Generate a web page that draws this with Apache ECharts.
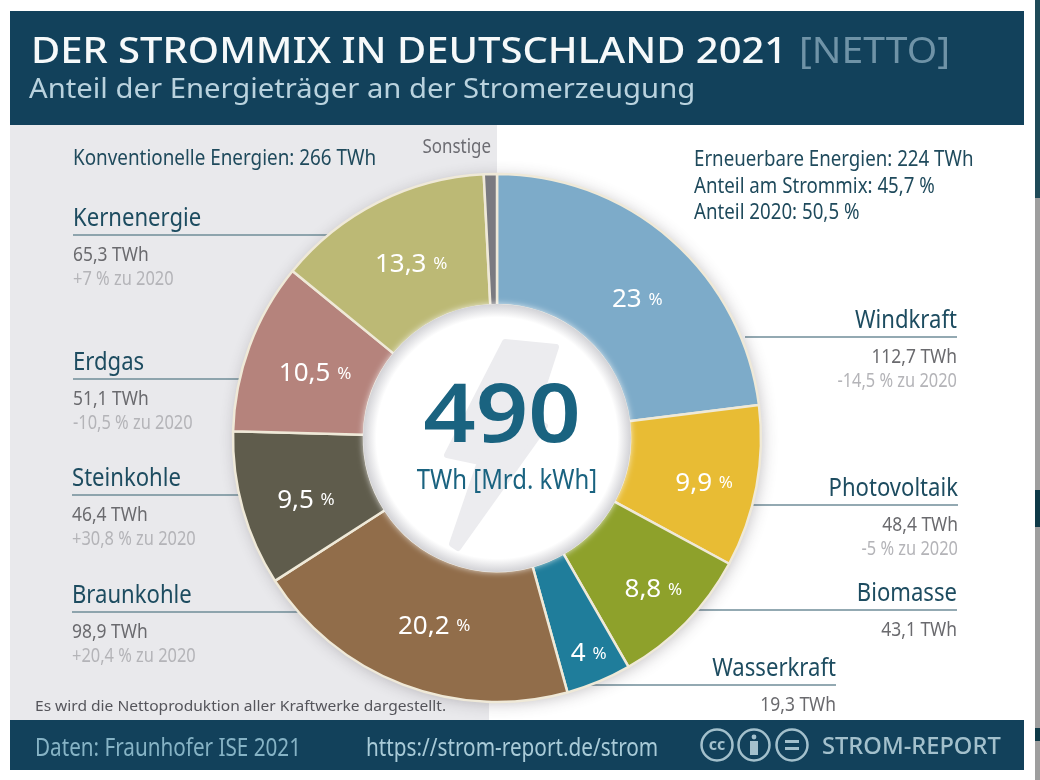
<!DOCTYPE html>
<html>
<head>
<meta charset="utf-8">
<title>Strommix 2021</title>
<style>html,body{margin:0;padding:0;background:#fff}#main{width:1040px;height:780px}</style>
<script src="https://cdn.jsdelivr.net/npm/echarts@6/dist/echarts.min.js"></script>
</head>
<body>
<div id="main"></div>
<script>
// Daten
var names = ['Windkraft', 'Photovoltaik', 'Biomasse', 'Wasserkraft', 'Braunkohle', 'Steinkohle', 'Erdgas', 'Kernenergie', 'Sonstige'];
var shares = [23, 9.9, 8.8, 4, 20.2, 9.5, 10.5, 13.3, 0.8];
var twh = ['112,7', '48,4', '43,1', '19,3', '98,9', '46,4', '51,1', '65,3', ''];
var change = ['-14,5 %', '-5 %', '', '', '+20,4 %', '+30,8 %', '-10,5 %', '+7 %', ''];
var colors = ['#7dabc9', '#e8bc34', '#8ea12b', '#1f7d9b', '#916d4a', '#5f5c4c', '#b5837c', '#bcb975', '#7a7a80'];

// Lage der Beschriftungen: x, Linie y, Linie Ende x, Ausrichtung
var callouts = {
    Kernenergie: { x: 73, y: 235, end: 328, align: 'left' },
    Erdgas: { x: 73, y: 379, end: 250, align: 'left' },
    Steinkohle: { x: 72, y: 495, end: 240, align: 'left' },
    Braunkohle: { x: 72, y: 612, end: 300, align: 'left' },
    Windkraft: { x: 957, y: 337, end: 745, align: 'right' },
    Photovoltaik: { x: 958, y: 505, end: 745, align: 'right' },
    Biomasse: { x: 957, y: 610, end: 695, align: 'right' },
    Wasserkraft: { x: 836, y: 685, end: 590, align: 'right' }
};
// Verschiebung der Prozentwerte im Ring
var labelShift = [[7, 13], [9, 8], [12, 11], [14, 30], [9, 0], [3, 8], [7, 6], [5, 6], [0, 0]];

var cx = 497, cy = 438;
var font = '"Noto Sans", "Open Sans", sans-serif';

// kein schmaler Font installiert, daher scaleX
function txt(x, y, text, size, color, align, sx, weight, z) {
    return {
        type: 'text', z: z || 20, silent: true, x: x, y: y, scaleX: sx || 1,
        style: {
            text: text, fill: color, fontSize: size, fontFamily: font,
            fontWeight: weight || 'normal', align: align || 'left', verticalAlign: 'middle'
        }
    };
}
function rect(x, y, w, h, fill, z) {
    return { type: 'rect', z: z, silent: true, shape: { x: x, y: y, width: w, height: h }, style: { fill: fill } };
}

var els = [
    rect(10, 125, 487, 300, '#e9e9ec', -10),
    rect(10, 425, 479, 295, '#e9e9ec', -10),
    rect(10, 11, 1014, 114, '#12415b', 10),
    rect(10, 720, 1014, 50, '#12415b', 10),
    // rechter Rand
    rect(1035, 0, 5, 198, '#1f4a58', 10),
    rect(1035, 198, 5, 582, '#9e9e9e', 10),
    rect(1035, 490, 5, 37, '#0f3a48', 11),
    rect(1035, 728, 5, 13, '#0f3a48', 11),
    // Schatten unter dem Ring
    { type: 'circle', z: -5, silent: true, shape: { cx: cx, cy: cy, r: 263 },
      style: { fill: '#fff', shadowBlur: 16, shadowColor: 'rgba(60,50,60,.32)', shadowOffsetX: 2, shadowOffsetY: 2 } },
    // Innenkreis
    { type: 'circle', z: 12, silent: true, shape: { cx: cx, cy: cy, r: 134 },
      style: {
          fill: new echarts.graphic.RadialGradient(0.5, 0.5, 0.5, [
              { offset: 0, color: '#fff' }, { offset: 0.9, color: '#fff' }, { offset: 1, color: '#d2d2d6' }
          ]),
          shadowBlur: 6, shadowColor: 'rgba(255,255,255,.8)'
      } },
    // Blitz
    { type: 'polygon', z: 13, silent: true,
      shape: { points: [[505, 342], [556, 347], [532, 421], [545, 426], [458, 548], [452, 544], [480, 462], [447, 455]] },
      style: { fill: '#ececef', stroke: '#ececef', lineWidth: 6, lineJoin: 'round' } },

    txt(31, 53, 'DER STROMMIX IN DEUTSCHLAND 2021', 36, '#f6f9fa', 'left', 1.11, 500),
    txt(799, 53, '[NETTO]', 36, '#6f93a7', 'left', 1.085),
    txt(29, 90, 'Anteil der Energieträger an der Stromerzeugung', 27, '#b9d2de', 'left', 1.083),

    txt(73, 159, 'Konventionelle Energien: 266 TWh', 22, '#1f4a5c', 'left', 0.857),
    txt(694, 160, 'Erneuerbare Energien: 224 TWh', 22, '#1f4a5c', 'left', 0.85),
    txt(694, 187, 'Anteil am Strommix: 45,7 %', 22, '#1f4a5c', 'left', 0.85),
    txt(694, 213, 'Anteil 2020: 50,5 %', 22, '#1f4a5c', 'left', 0.85),
    txt(491, 148, 'Sonstige', 19, '#6c6c72', 'right', 0.89),

    txt(502, 419, '490', 82, '#1a6380', 'center', 1.12, 600),
    txt(507, 481, 'TWh [Mrd. kWh]', 27, '#1a6380', 'center', 0.885),

    txt(35, 707, 'Es wird die Nettoproduktion aller Kraftwerke dargestellt.', 14, '#55555b', 'left', 1.11),
    txt(35, 749, 'Daten: Fraunhofer ISE 2021', 25, '#86b3c5', 'left', 0.827),
    txt(366, 749, 'https://strom-report.de/strom', 25, '#a9cbd8', 'left', 0.83),
    txt(822, 747, 'STROM-REPORT', 23, '#a3c0cc', 'left', 1.03, 500)
];

// CC-Symbole
[717, 754, 792].forEach(function (x) {
    els.push({ type: 'circle', z: 20, silent: true, shape: { cx: x, cy: 745, r: 15.5 },
        style: { fill: 'none', stroke: '#a3c0cc', lineWidth: 2.5 } });
});
els.push(txt(717, 745, 'cc', 16, '#a3c0cc', 'center', 1, 700));
els.push({ type: 'circle', z: 20, silent: true, shape: { cx: 754, cy: 737, r: 2.4 }, style: { fill: '#a3c0cc' } });
els.push(rect(750, 741, 8, 14, '#a3c0cc', 20));
els.push(rect(785, 740, 14, 3, '#a3c0cc', 20));
els.push(rect(785, 747, 14, 3, '#a3c0cc', 20));

// Beschriftungen der Segmente
names.forEach(function (n, i) {
    var c = callouts[n];
    if (!c) return;
    els.push({ type: 'line', z: -6, silent: true,
        shape: { x1: c.x, y1: c.y, x2: c.end, y2: c.y },
        style: { stroke: '#6f8d99', lineWidth: 1.5 } });
    els.push(txt(c.x, c.y - 16, n, 26, '#1d4c60', c.align, 0.85));
    els.push(txt(c.x, c.y + 20, twh[i] + ' TWh', 20, '#6a6a6e', c.align, 0.87));
    if (change[i]) els.push(txt(c.x, c.y + 44, change[i] + ' zu 2020', 20, '#b4b4b8', c.align, 0.82));
});

var myChart = echarts.init(document.getElementById('main'));
var option = {
    animation: false,
    backgroundColor: '#fff',
    color: colors,
    graphic: { elements: els },
    series: [{
        type: 'pie',
        z: 2,
        center: [cx, cy],
        radius: [133, 264],
        startAngle: 90,
        clockwise: true,
        avoidLabelOverlap: false,
        silent: true,
        itemStyle: { borderColor: '#efe9d8', borderWidth: 2.5 },
        labelLine: { show: false },
        label: {
            show: true,
            position: 'inside',
            formatter: function (p) {
                if (p.name === 'Sonstige') return '';
                return '{v|' + String(p.value).replace('.', ',') + '}  {p|%}';
            },
            rich: {
                v: { fontSize: 26, color: '#fff', fontFamily: font },
                p: { fontSize: 17, color: '#fff', fontFamily: font }
            }
        },
        labelLayout: function (params) {
            var s = labelShift[params.dataIndex];
            return { dx: s[0], dy: s[1] };
        },
        data: names.map(function (n, i) { return { name: n, value: shares[i] }; })
    }]
};
myChart.setOption(option);
window.addEventListener('resize', function () { myChart.resize(); });
</script>
</body>
</html>
